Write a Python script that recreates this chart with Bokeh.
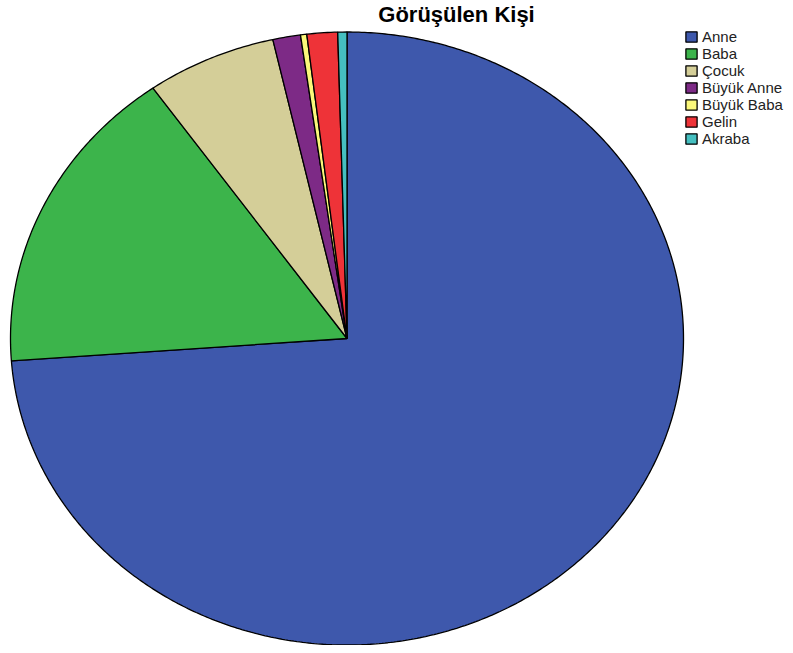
import numpy as np
from bokeh.plotting import figure
from bokeh.models import ColumnDataSource, Label, Legend, LegendItem, Range1d
from bokeh.embed import file_html
from bokeh.resources import INLINE

title_text = "Görüşülen Kişi"
categories = ["Anne", "Baba", "Çocuk", "Büyük Anne", "Büyük Baba", "Gelin", "Akraba"]
percents = [73.9, 16.4, 6.25, 1.33, 0.3, 1.47, 0.44]
colors = ["#3e58ac", "#3cb44b", "#d4ce98", "#7d2a86", "#fbf87a", "#ee3338", "#45bfc0"]

W, H = 785, 645
cx_px, cy_px = 346.5, 338.0   # ellipse centre in frame pixels (from top)
rx_px, ry_px = 336.5, 306.5

p = figure(width=W, height=H, output_backend="svg", toolbar_location=None,
           min_border=0, x_axis_type=None, y_axis_type=None)
p.x_range = Range1d(-cx_px / rx_px, (W - cx_px) / rx_px)
p.y_range = Range1d(-(H - cy_px) / ry_px, cy_px / ry_px)
p.grid.visible = False
p.outline_line_color = None
p.background_fill_color = "white"
p.border_fill_color = "white"

vals = np.array(percents, dtype=float)
frac = vals / vals.sum()
ends = np.cumsum(frac) * 2 * np.pi
starts = ends - frac * 2 * np.pi
xs, ys = [], []
for a0, a1 in zip(starts, ends):
    n = max(int((a1 - a0) / (2 * np.pi) * 720), 2)
    t = np.linspace(a0, a1, n)
    xs.append([0.0] + list(np.sin(t)) + [0.0])
    ys.append([0.0] + list(np.cos(t)) + [0.0])

src = ColumnDataSource(dict(xs=xs, ys=ys, color=colors, label=categories))
r = p.patches("xs", "ys", source=src, fill_color="color", line_color="black",
              line_width=1.3)

items = [LegendItem(label=c, renderers=[r], index=i) for i, c in enumerate(categories)]
legend = Legend(items=items, location=(684, 498), orientation="vertical",
                glyph_width=14, glyph_height=13, label_height=12, spacing=0,
                padding=2, margin=0, label_standoff=4,
                label_text_font="Liberation Sans", label_text_font_size="15px",
                label_text_color="#222222", background_fill_alpha=0,
                border_line_color=None)
p.add_layout(legend)

title = Label(x=(456 - cx_px) / rx_px, y=(H - 14 - (H - cy_px)) / ry_px,
              text=title_text, text_align="center", text_baseline="alphabetic",
              text_font="Liberation Sans", text_font_style="bold",
              text_font_size="22px", text_color="black")
p.add_layout(title)

open("out.html", "w").write(file_html(p, INLINE))
